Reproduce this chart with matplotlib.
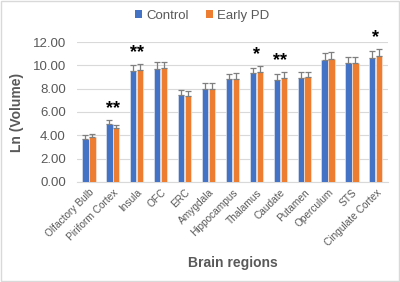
import matplotlib
matplotlib.use("Agg")
import matplotlib.pyplot as plt
from matplotlib.patches import Patch
import numpy as np

plt.rcParams['font.family'] = ['Liberation Sans', 'DejaVu Sans']

regions = ["Olfactory Bulb", "Piriform Cortex", "Insula", "OFC", "ERC", "Amygdala",
           "Hippocampus", "Thalamus", "Caudate", "Putamen", "Operculum", "STS",
           "Cingulate Cortex"]
control = [3.71, 5.00, 9.49, 9.71, 7.43, 8.00, 8.83, 9.31, 8.71, 8.91, 10.43, 10.17, 10.66]
early_pd = [3.86, 4.66, 9.63, 9.77, 7.37, 8.00, 8.86, 9.43, 8.91, 8.97, 10.51, 10.20, 10.77]
control_err = [0.28, 0.28, 0.50, 0.55, 0.45, 0.45, 0.45, 0.50, 0.55, 0.50, 0.65, 0.55, 0.60]
pd_err = [0.25, 0.25, 0.50, 0.55, 0.45, 0.45, 0.45, 0.50, 0.50, 0.50, 0.60, 0.55, 0.60]
stars = ["", "**", "**", "", "", "", "", "*", "**", "", "", "", "*"]

blue = "#4472C4"
orange = "#ED7D31"
gray = "#595959"

fig = plt.figure(figsize=(4.0, 2.82), dpi=100)
fig.patch.set_facecolor("white")
ax = fig.add_axes([0.1925, 0.355, 0.777, 0.496])

x = np.arange(len(regions))
w = 0.26
ekw = dict(ecolor="#7f7f7f", elinewidth=0.9, capsize=2.3, capthick=0.9)
ax.bar(x - w / 2 - 0.015, control, w, color=blue, edgecolor="#dde3ee", linewidth=0.5,
       yerr=[np.zeros(len(control)), control_err], error_kw=ekw, label="Control", zorder=3)
ax.bar(x + w / 2 + 0.015, early_pd, w, color=orange, edgecolor="#f5e3d8", linewidth=0.5,
       yerr=[np.zeros(len(early_pd)), pd_err], error_kw=ekw, label="Early PD", zorder=3)

for i, s in enumerate(stars):
    if s:
        top = max(control[i] + control_err[i], early_pd[i] + pd_err[i])
        ax.text(x[i], top + 1.0, s, ha="center", va="center", fontsize=13,
                fontweight="bold", color="black")

ax.set_ylim(0, 12)
ax.set_xlim(-0.5, len(regions) - 0.5)
yt = np.arange(0, 12.1, 2)
ax.set_yticks(yt)
ax.set_yticklabels([f"{v:.2f}" for v in yt], fontsize=9.5, color=gray)
ax.set_xticks(x)
ax.set_xticklabels(regions, rotation=45, ha="right", rotation_mode="anchor",
                   fontsize=7.3, color=gray)
ax.tick_params(axis="both", length=0)
ax.tick_params(axis="y", pad=8)
ax.tick_params(axis="x", pad=4)
ax.yaxis.grid(True, color="#d9d9d9", linewidth=0.8, zorder=0)
ax.set_axisbelow(True)
for sp in ["top", "right", "left"]:
    ax.spines[sp].set_visible(False)
ax.spines["bottom"].set_color("#d9d9d9")
ax.spines["bottom"].set_linewidth(0.8)

ax.set_ylabel("Ln (Volume)", fontsize=10, fontweight="bold", color=gray, labelpad=6)
ax.set_xlabel("Brain regions", fontsize=10, fontweight="bold", color=gray, labelpad=6)

handles = [Patch(facecolor=blue, label="Control"), Patch(facecolor=orange, label="Early PD")]
fig.legend(handles=handles, loc="center", bbox_to_anchor=(0.505, 0.945), ncol=2,
           frameon=False, fontsize=9.5, handlelength=0.55, handleheight=0.55,
           handletextpad=0.3, columnspacing=1.3, labelcolor=gray)

border = plt.Rectangle((0.002, 0.002), 0.996, 0.996, transform=fig.transFigure,
                       fill=False, edgecolor="#d9d9d9", linewidth=1.0)
fig.patches.append(border)

fig.savefig("out.png", dpi=100, facecolor="white")
